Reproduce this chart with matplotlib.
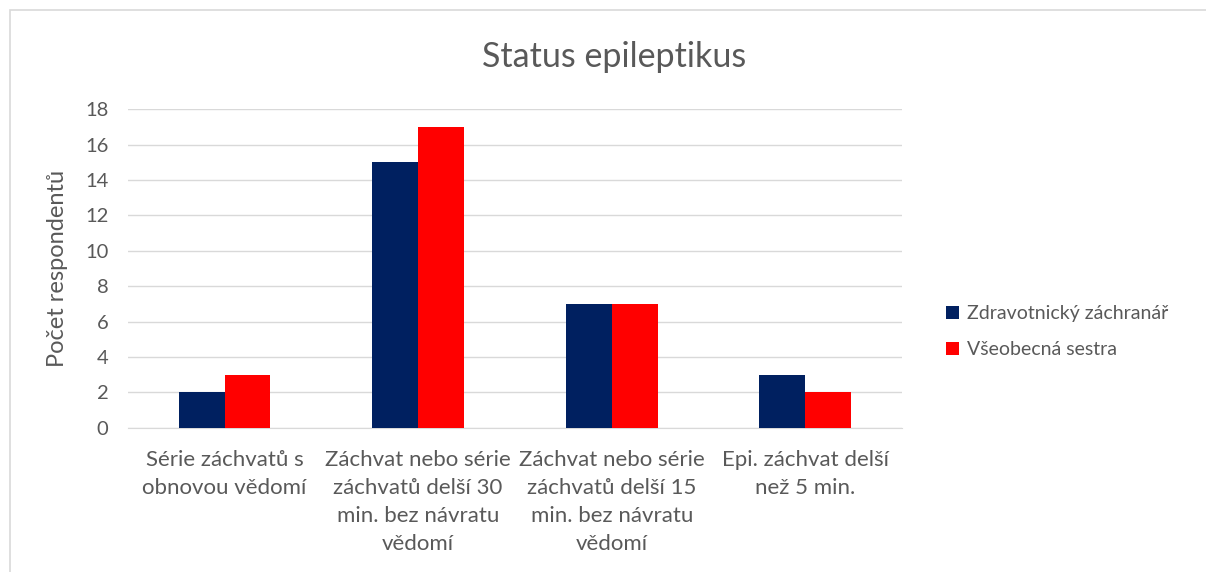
import numpy as np
import matplotlib.pyplot as plt
from matplotlib.patches import Rectangle

categories = ['Série záchvatů s\nobnovou vědomí',
              'Záchvat nebo série\nzáchvatů delší 30\nmin. bez návratu\nvědomí',
              'Záchvat nebo série\nzáchvatů delší 15\nmin. bez návratu\nvědomí',
              'Epi. záchvat delší\nnež 5 min.']
zachranar = [2, 15, 7, 3]
sestra = [3, 17, 7, 2]
series_names = ['Zdravotnický záchranář', 'Všeobecná sestra']

plt.rcParams['font.family'] = ['Lato', 'DejaVu Sans']
text_color = '#595959'

fig = plt.figure(figsize=(12.06, 5.72), dpi=100)
ax = fig.add_axes([0.106, 0.252, 0.642, 0.557])

x = np.arange(len(categories))
w = 0.237
ax.bar(x - w / 2, zachranar, w, color='#002060', label=series_names[0], zorder=3)
ax.bar(x + w / 2, sestra, w, color='#FF0000', label=series_names[1], zorder=3)

ax.set_xlim(-0.5, len(categories) - 0.5)
ax.set_ylim(0, 18)
ax.set_yticks(range(0, 19, 2))
ax.set_xticks(x)
ax.set_xticklabels(categories, fontsize=16, color=text_color, linespacing=1.5)
ax.tick_params(axis='y', labelsize=14.5, labelcolor=text_color, length=0, pad=14)
ax.tick_params(axis='x', length=0, pad=16)
ax.grid(axis='y', color='#D9D9D9', linewidth=1, zorder=0)
for s in ['top', 'right', 'left']:
    ax.spines[s].set_visible(False)
ax.spines['bottom'].set_color('#D9D9D9')

ax.set_ylabel('Počet respondentů', fontsize=17, color=text_color, labelpad=12)
fig.text(0.509, 0.9, 'Status epileptikus', fontsize=24.5, color=text_color,
         ha='center', va='center')

leg = fig.legend(loc='center left', bbox_to_anchor=(0.77, 0.42), frameon=False,
                 fontsize=14, labelspacing=1.0, handlelength=0.65, handleheight=0.65,
                 handletextpad=0.4)
for t in leg.get_texts():
    t.set_color(text_color)

fig.patches.append(Rectangle((0.008, -0.01), 1.0, 0.993, transform=fig.transFigure,
                             fill=False, edgecolor='#D9D9D9', linewidth=1.2))

fig.savefig('out.png', dpi=100)
